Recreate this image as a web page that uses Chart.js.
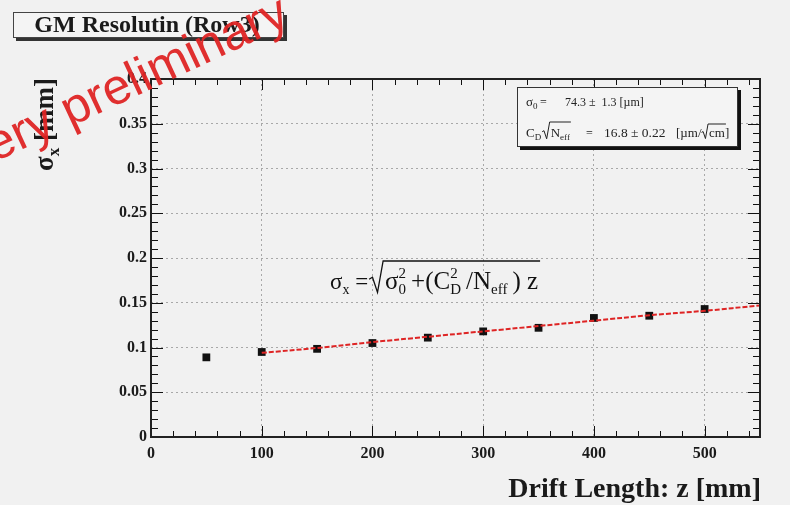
<!DOCTYPE html>
<html>
<head>
<meta charset="utf-8">
<script src="https://cdn.jsdelivr.net/npm/chart.js@4.4.0/dist/chart.umd.min.js"></script>
<style>
  html, body { margin: 0; padding: 0; background: #f1f1f1; }
  canvas { display: block; }
</style>
</head>
<body>
<canvas id="resolution-chart" width="790" height="505"></canvas>
<script>
// measured points (drift length in mm, sigma_x in mm)
const driftLength = [50, 100, 150, 200, 250, 300, 350, 400, 450, 500];
const sigmaX = [0.089, 0.095, 0.0985, 0.105, 0.111, 0.118, 0.122, 0.133, 0.1355, 0.143];

// fit curve
const fitZ = [100, 150, 200, 250, 300, 350, 400, 450, 500, 550];
const fitSigma = [0.094, 0.0995, 0.106, 0.112, 0.118, 0.124, 0.130, 0.136, 0.141, 0.147];

const xTicks = [0, 100, 200, 300, 400, 500];
const yTicks = [0, 0.05, 0.1, 0.15, 0.2, 0.25, 0.3, 0.35, 0.4];

const SERIF = '"Liberation Serif", "DejaVu Serif", serif';

// draws a run of text pieces: [text, size, dy, noAdvance] or a root sign
function rich(ctx, x, y, parts, weight) {
  for (const p of parts) {
    if (p.radical) {
      const h = p.h;
      ctx.beginPath();
      ctx.lineWidth = p.lw || 1.2;
      ctx.moveTo(x, y - h * 0.35);
      ctx.lineTo(x + h * 0.12, y - h * 0.42);
      ctx.lineTo(x + h * 0.3, y + h * 0.12);
      ctx.lineTo(x + h * 0.5, y - h);
      ctx.lineTo(x + h * 0.5 + p.radical, y - h);
      ctx.stroke();
      x += h * 0.5 + 1;
      continue;
    }
    ctx.font = (weight || '') + ' ' + p[1] + 'px ' + SERIF;
    ctx.fillText(p[0], x, y + (p[2] || 0));
    if (!p[3]) x += ctx.measureText(p[0]).width;
  }
  return x;
}

function measure(ctx, parts, weight) {
  let w = 0;
  for (const p of parts) {
    ctx.font = (weight || '') + ' ' + p[1] + 'px ' + SERIF;
    if (!p[3]) w += ctx.measureText(p[0]).width;
  }
  return w;
}

const rootStyle = {
  id: 'rootStyle',
  beforeDraw(chart) {
    const ctx = chart.ctx;
    ctx.save();
    ctx.fillStyle = '#f1f1f1';
    ctx.fillRect(0, 0, chart.width, chart.height);
    ctx.restore();
  },
  afterDatasetsDraw(chart) {
    const { ctx, chartArea: a, scales: { x, y } } = chart;
    ctx.save();
    ctx.strokeStyle = '#111';
    ctx.lineWidth = 1;
    ctx.beginPath();
    for (let v = 0; v <= 540; v += 20) {
      const px = Math.round(x.getPixelForValue(v)) + 0.5;
      const len = v % 100 === 0 ? 11 : 6;
      ctx.moveTo(px, a.bottom); ctx.lineTo(px, a.bottom - len);
      ctx.moveTo(px, a.top); ctx.lineTo(px, a.top + len);
    }
    for (let i = 0; i <= 40; i++) {
      const py = Math.round(y.getPixelForValue(i / 100)) + 0.5;
      const len = i % 5 === 0 ? 12 : 7;
      ctx.moveTo(a.left, py); ctx.lineTo(a.left + len, py);
      ctx.moveTo(a.right, py); ctx.lineTo(a.right - len, py);
    }
    ctx.stroke();
    ctx.lineWidth = 2;
    ctx.strokeStyle = '#222';
    ctx.strokeRect(a.left, a.top, a.right - a.left, a.bottom - a.top);
    ctx.restore();
  },
  afterDraw(chart) {
    const ctx = chart.ctx;
    ctx.save();
    ctx.fillStyle = '#111';
    ctx.strokeStyle = '#111';
    ctx.textBaseline = 'alphabetic';

    // formula inside the plot
    const inner = [['\u03c3', 25], ['2', 15, -11, true], ['0', 15, 5], ['\u2009+(C', 25], ['2', 15, -11, true], ['D', 15, 5], ['\u2009/N', 25], ['eff', 15, 5], ['\u2009) z', 25]];
    const innerW = measure(ctx, inner);
    let fx = rich(ctx, 330, 289, [['\u03c3', 23], ['x', 14, 5], [' =', 23]]);
    fx = rich(ctx, fx + 1, 289, [{ radical: innerW + 4, h: 28, lw: 1.3 }]);
    rich(ctx, fx + 1, 289, inner);

    // stats box
    ctx.fillStyle = '#111';
    ctx.fillRect(520, 147, 221, 3);
    ctx.fillRect(738, 90, 3, 60);
    ctx.fillStyle = '#f4f4f4';
    ctx.fillRect(517, 87, 221, 60);
    ctx.lineWidth = 1;
    ctx.strokeStyle = '#333';
    ctx.strokeRect(517.5, 87.5, 220, 59);
    ctx.fillStyle = '#222';
    ctx.strokeStyle = '#222';
    rich(ctx, 526, 106, [['\u03c3', 13], ['0', 9, 3]]);
    rich(ctx, 540, 106, [['=', 12]]);
    rich(ctx, 565, 106, [['74.3 \u00b1  1.3 [\u00b5m]', 12]]);
    let sx = rich(ctx, 526, 137, [['C', 13], ['D', 9, 3]]);
    const nEff = [['N', 13], ['eff', 9, 3]];
    sx = rich(ctx, sx + 1, 137, [{ radical: measure(ctx, nEff) + 2, h: 15, lw: 1 }]);
    rich(ctx, sx, 137, nEff);
    rich(ctx, 586, 137, [['=', 12]]);
    rich(ctx, 604, 137, [['16.8 \u00b1 0.22', 13.5]]);
    sx = rich(ctx, 676, 137, [['[\u00b5m/', 13]]);
    sx = rich(ctx, sx, 137, [{ radical: measure(ctx, [['cm', 13]]) + 2, h: 13, lw: 1 }]);
    rich(ctx, sx, 137, [['cm]', 13]]);

    // title box
    ctx.fillStyle = '#333';
    ctx.fillRect(16, 38, 271, 3);
    ctx.fillRect(284, 15, 3, 26);
    ctx.fillStyle = '#f4f4f4';
    ctx.fillRect(13, 12, 271, 26);
    ctx.strokeStyle = '#444';
    ctx.strokeRect(13.5, 12.5, 270, 25);
    ctx.fillStyle = '#1a1a1a';
    ctx.font = 'bold 24px ' + SERIF;
    ctx.textAlign = 'center';
    ctx.textBaseline = 'middle';
    ctx.fillText('GM Resolutin (Row3)', 147, 26);

    // axis titles
    ctx.textAlign = 'right';
    ctx.textBaseline = 'alphabetic';
    ctx.font = 'bold 28px ' + SERIF;
    ctx.fillText('Drift Length: z [mm]', 761, 497);

    ctx.save();
    ctx.translate(53, 78);
    ctx.rotate(-Math.PI / 2);
    ctx.textAlign = 'left';
    const yTitle = [['\u03c3', 27], ['x', 17, 6], [' [mm]', 27]];
    const yw = measure(ctx, yTitle, 'bold');
    rich(ctx, -yw, 0, yTitle, 'bold');
    ctx.restore();

    // watermark
    ctx.save();
    ctx.translate(70, 127);
    ctx.rotate(-25 * Math.PI / 180);
    ctx.fillStyle = 'rgba(222, 36, 36, 0.95)';
    ctx.font = '50px "Liberation Sans", Arial, sans-serif';
    ctx.textAlign = 'left';
    const vw = ctx.measureText('very ').width;
    ctx.fillText('very preliminary', -vw, 0);
    ctx.restore();

    ctx.restore();
  }
};

const ctx = document.getElementById('resolution-chart').getContext('2d');
new Chart(ctx, {
  type: 'scatter',
  data: {
    datasets: [
      {
        label: 'fit',
        data: fitZ.map((z, i) => ({ x: z, y: fitSigma[i] })),
        showLine: true,
        borderColor: 'rgb(222, 36, 36)',
        borderWidth: 2,
        borderDash: [5, 2],
        tension: 0.4,
        pointRadius: 0,
        order: 0
      },
      {
        label: 'sigma',
        data: driftLength.map((z, i) => ({ x: z, y: sigmaX[i] })),
        pointStyle: 'rect',
        pointRadius: 5.5,
        backgroundColor: '#111',
        borderColor: '#111',
        borderWidth: 0,
        order: 1
      }
    ]
  },
  options: {
    responsive: false,
    animation: false,
    devicePixelRatio: 1,
    layout: { padding: { top: 79, right: 30, left: 0, bottom: 0 } },
    plugins: { legend: { display: false }, tooltip: { enabled: false } },
    scales: {
      x: {
        type: 'linear',
        min: 0,
        max: 550,
        afterBuildTicks: s => { s.ticks = xTicks.map(v => ({ value: v })); },
        afterFit: s => { s.height = 68; },
        grid: { color: '#a8a8a8', lineWidth: 1, drawTicks: false },
        border: { display: false, dash: [2, 3] },
        ticks: {
          padding: 7,
          color: '#1a1a1a',
          maxRotation: 0,
          font: { family: SERIF, size: 16, weight: 'bold' },
          callback: v => String(v)
        }
      },
      y: {
        type: 'linear',
        min: 0,
        max: 0.4,
        afterBuildTicks: s => { s.ticks = yTicks.map(v => ({ value: v })); },
        afterFit: s => { s.width = 151; },
        grid: { color: '#a8a8a8', lineWidth: 1, drawTicks: false },
        border: { display: false, dash: [2, 3] },
        ticks: {
          padding: 4,
          color: '#1a1a1a',
          font: { family: SERIF, size: 16, weight: 'bold' },
          callback: v => String(+v.toFixed(2))
        }
      }
    }
  },
  plugins: [rootStyle]
});
</script>
</body>
</html>
